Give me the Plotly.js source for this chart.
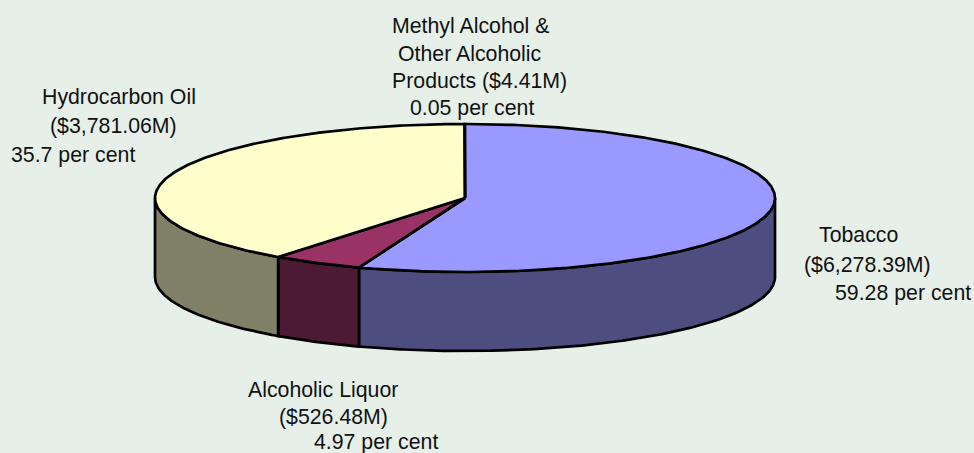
<!DOCTYPE html>
<html>
<head>
<meta charset="utf-8">
<script src="https://cdn.plot.ly/plotly-3.0.1.min.js"></script>
<style>html,body{margin:0;padding:0;background:#E6F0E8;}</style>
</head>
<body>
<div id="chart" style="width:974px;height:453px;"></div>
<script>
// Data
const categories = ["Tobacco", "Alcoholic Liquor", "Hydrocarbon Oil", "Methyl Alcohol & Other Alcoholic Products"];
const values = [6278.39, 526.48, 3781.06, 4.41];
const topColors = ["#9999FF", "#993366", "#FFFFCC", "#CCFFFF"];
const sideColors = ["#4D4D80", "#4D1A33", "#808066", "#668080"];
const labelLines = [
  "Methyl Alcohol &", "Other Alcoholic", "Products ($4.41M)", "0.05 per cent",
  "Hydrocarbon Oil", "($3,781.06M)", "35.7 per cent",
  "Tobacco", "($6,278.39M)", "59.28 per cent",
  "Alcoholic Liquor", "($526.48M)", "4.97 per cent"
];
const labelX = [390, 396, 390, 408, 40, 48, 9, 817, 802, 833, 246, 277, 312];
const labelY = [26, 54, 81, 108, 97, 126, 155, 235, 265, 293, 390, 417, 442];

// Projection of the tilted disc
const cx = 465, cy = 198, rx = 310, ry = 74, depth = 79, warp = 14.6;
const rad = d => d * Math.PI / 180;
const view = d => d - warp * Math.sin(rad(2 * d));   // perspective shift of the drawn angle
const px = d => cx + rx * Math.sin(rad(d));
const py = d => cy - ry * Math.cos(rad(d));

function arc(a, b) {
  const pts = [], n = Math.max(2, Math.ceil(Math.abs(b - a) * 2));
  for (let i = 0; i <= n; i++) pts.push(a + (b - a) * i / n);
  return pts;
}

const total = values.reduce((s, v) => s + v, 0);
let cum = 0;
const sides = [], tops = [];
values.forEach((v, i) => {
  const a = view(cum / total * 360);
  cum += v;
  const b = view(cum / total * 360);
  const base = {type: "scatter", mode: "lines", name: categories[i], hoverinfo: "name",
                fill: "toself", showlegend: false};
  const sa = Math.max(a, 90), sb = Math.min(b, 270);
  if (sb > sa) {
    const up = arc(sa, sb), down = arc(sb, sa);
    sides.push(Object.assign({}, base, {
      x: up.map(px).concat(down.map(px), [px(sa)]),
      y: up.map(py).concat(down.map(d => py(d) + depth), [py(sa)]),
      fillcolor: sideColors[i],
      line: {color: "#000", width: 2.7}
    }));
  }
  const t = arc(a, b);
  tops.push(Object.assign({}, base, {
    x: [cx].concat(t.map(px), [cx]),
    y: [cy].concat(t.map(py), [cy]),
    fillcolor: topColors[i],
    line: {color: "#000", width: 2.7}
  }));
});

const annotations = labelLines.map((text, i) => ({
  text, x: labelX[i], y: labelY[i], xref: "x", yref: "y",
  xanchor: "left", yanchor: "middle", showarrow: false, align: "left",
  font: {family: "Liberation Sans, Arial, sans-serif", size: 21.3, color: "#111"}
}));

Plotly.newPlot("chart", sides.concat(tops), {
  width: 974, height: 453,
  margin: {l: 0, r: 0, t: 0, b: 0},
  paper_bgcolor: "#E6F0E8", plot_bgcolor: "#E6F0E8",
  showlegend: false,
  xaxis: {range: [0, 974], visible: false, fixedrange: true},
  yaxis: {range: [453, 0], visible: false, fixedrange: true},
  annotations
}, {displayModeBar: false});
</script>
</body>
</html>
